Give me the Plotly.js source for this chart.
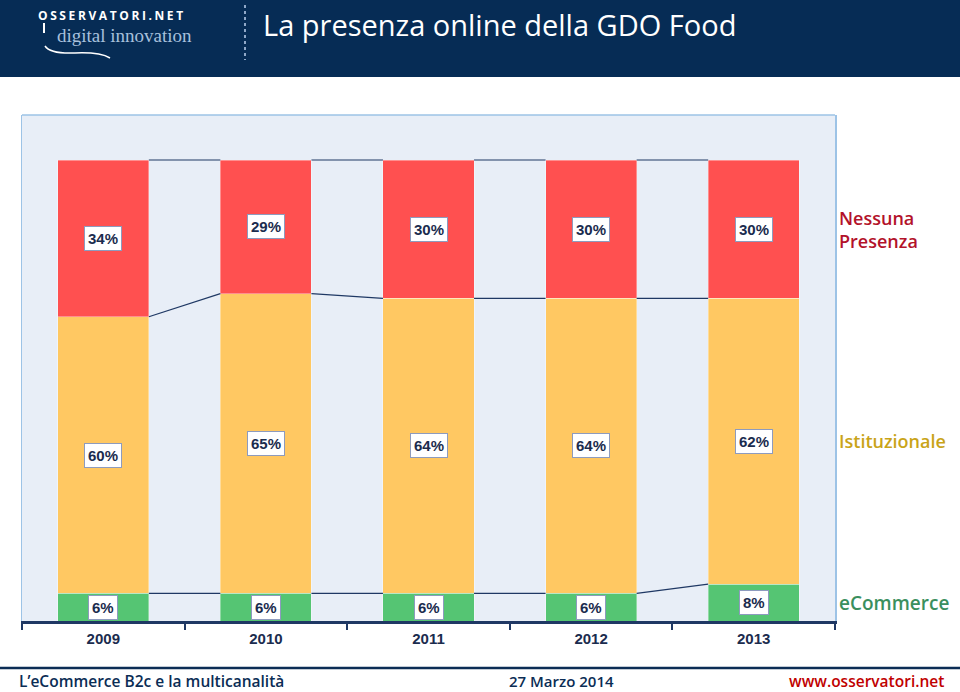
<!DOCTYPE html>
<html>
<head>
<meta charset="utf-8">
<script src="https://cdn.plot.ly/plotly-3.0.1.min.js"></script>
<style>
  html, body { margin: 0; padding: 0; background: #ffffff; }
  #chart { width: 960px; height: 692px; }
</style>
</head>
<body>
<div id="chart"></div>
<script>
// ---- data ----
const years = ['2009', '2010', '2011', '2012', '2013'];
const ecommerce = [6, 6, 6, 6, 8];
const istituzionale = [60, 65, 64, 64, 62];
const nessunaPresenza = [34, 29, 30, 30, 30];
const seriesNames = ['eCommerce', 'Istituzionale', 'Nessuna<br>Presenza'];
const headerTitle = 'La presenza online della GDO Food';
const footerLeft = 'L’eCommerce B2c e la multicanalità';
const footerMid = '27 Marzo 2014';
const footerRight = 'www.osservatori.net';

// ---- geometry helpers (plot area in pixels) ----
const W = 960, H = 692;
const M = {l: 22, r: 125, t: 115, b: 71};
const PW = W - M.l - M.r, PH = H - M.t - M.b;
const px2x = px => (px - M.l) / PW;
const py2y = py => (H - M.b - py) / PH;

const colors = ['#55C573', '#FFC862', '#FF5050'];
const labelColors = ['#3A8F5E', '#C9A418', '#B3122A'];
const navy = '#1B2C4E';
const barWidth = 0.56;

const series = [ecommerce, istituzionale, nessunaPresenza];
const xIdx = years.map((_, i) => i);
const boundaries = years.map((_, i) => i - 0.5).concat([years.length - 0.5]);

const traces = series.map((vals, k) => ({
  type: 'bar',
  x: xIdx,
  y: vals,
  name: seriesNames[k],
  width: barWidth,
  marker: {color: colors[k], line: {color: 'rgba(255,255,255,0.6)', width: 0.6}},
  hoverinfo: 'skip',
  showlegend: false
}));

// cumulative tops
const cum = series.map((_, k) => years.map((_, i) => {
  let s = 0;
  for (let j = 0; j <= k; j++) s += series[j][i];
  return s;
}));

const shapes = [];
// header band
shapes.push({type: 'rect', xref: 'paper', yref: 'paper', layer: 'below',
  x0: px2x(-5), x1: px2x(965), y0: py2y(77), y1: py2y(-5),
  fillcolor: '#062C55', line: {width: 0}});
// separator dotted line
shapes.push({type: 'line', xref: 'paper', yref: 'paper',
  x0: px2x(245), x1: px2x(245), y0: py2y(5), y1: py2y(60),
  line: {color: '#8FA8C8', width: 2, dash: 'dot'}});
// logo key stem
shapes.push({type: 'line', xref: 'paper', yref: 'paper',
  x0: px2x(44), x1: px2x(44), y0: py2y(23), y1: py2y(33),
  line: {color: '#ffffff', width: 2}});
// logo swoosh
const sw = [[45, 46], [50, 54], [75, 53], [100, 52], [110, 58]];
shapes.push({type: 'path', xref: 'paper', yref: 'paper',
  path: `M ${px2x(sw[0][0])},${py2y(sw[0][1])} Q ${px2x(sw[1][0])},${py2y(sw[1][1])} ${px2x(sw[2][0])},${py2y(sw[2][1])} Q ${px2x(sw[3][0])},${py2y(sw[3][1])} ${px2x(sw[4][0])},${py2y(sw[4][1])}`,
  line: {color: '#ffffff', width: 1.5}});
// footer line
shapes.push({type: 'line', xref: 'paper', yref: 'paper',
  x0: px2x(0), x1: px2x(960), y0: py2y(668), y1: py2y(668),
  line: {color: '#0B2D55', width: 2.5}});
// top border of plot area
shapes.push({type: 'line', xref: 'paper', yref: 'paper',
  x0: 0, x1: 1, y0: 1, y1: 1, line: {color: '#9DC3E6', width: 1.5}});

// connector lines between bars
for (let k = 0; k < series.length; k++) {
  for (let i = 0; i < years.length - 1; i++) {
    shapes.push({type: 'line', xref: 'x', yref: 'y',
      x0: xIdx[i] + barWidth / 2, x1: xIdx[i + 1] - barWidth / 2,
      y0: cum[k][i], y1: cum[k][i + 1],
      line: {color: '#1F3864', width: 1.2}});
  }
}

const annotations = [];
// segment labels
for (let k = 0; k < series.length; k++) {
  for (let i = 0; i < years.length; i++) {
    annotations.push({
      x: xIdx[i], y: cum[k][i] - series[k][i] / 2, xref: 'x', yref: 'y',
      text: series[k][i] + '%', showarrow: false,
      font: {family: 'Arial, Liberation Sans', size: 15, color: navy, weight: 'bold'},
      bgcolor: '#ffffff', bordercolor: '#8D9BBE', borderwidth: 1, borderpad: 3
    });
  }
}
// series labels on the right
const last = years.length - 1;
const rightSizes = [19, 18, 18];
for (let k = 0; k < series.length; k++) {
  annotations.push({
    x: 1, xref: 'paper', xanchor: 'left', xshift: 2,
    y: cum[k][last] - series[k][last] / 2, yref: 'y', yanchor: 'middle',
    text: seriesNames[k], showarrow: false, align: 'left',
    font: {family: 'Open Sans', size: rightSizes[k], color: labelColors[k], weight: 600}
  });
}
// header title
annotations.push({x: px2x(261), y: py2y(25), xref: 'paper', yref: 'paper',
  xanchor: 'left', yanchor: 'middle', showarrow: false, text: headerTitle,
  font: {family: 'Open Sans', size: 29, color: '#ffffff'}});
// logo text
annotations.push({x: px2x(36), y: py2y(15), xref: 'paper', yref: 'paper',
  xanchor: 'left', yanchor: 'middle', showarrow: false,
  text: '<span style="letter-spacing:2.6px">OSSERVATORI.NET</span>',
  font: {family: 'Open Sans', size: 12, color: '#ffffff', weight: 'bold'}});
annotations.push({x: px2x(55), y: py2y(35), xref: 'paper', yref: 'paper',
  xanchor: 'left', yanchor: 'middle', showarrow: false, text: 'digital innovation',
  font: {family: 'Liberation Serif', size: 19, color: '#A8C0DC'}});
// footer
annotations.push({x: px2x(17), y: py2y(681), xref: 'paper', yref: 'paper',
  xanchor: 'left', yanchor: 'middle', showarrow: false, text: footerLeft,
  font: {family: 'Open Sans', size: 15.5, color: '#0B2D55', weight: 600}});
annotations.push({x: px2x(507), y: py2y(681), xref: 'paper', yref: 'paper',
  xanchor: 'left', yanchor: 'middle', showarrow: false, text: footerMid,
  font: {family: 'Open Sans', size: 15, color: '#0B2D55', weight: 600}});
annotations.push({x: px2x(946), y: py2y(681), xref: 'paper', yref: 'paper',
  xanchor: 'right', yanchor: 'middle', showarrow: false, text: footerRight,
  font: {family: 'Open Sans', size: 15.5, color: '#C00000', weight: 600}});

const layout = {
  width: W, height: H,
  margin: M,
  paper_bgcolor: '#ffffff',
  plot_bgcolor: '#E8EEF7',
  barmode: 'stack',
  xaxis: {
    type: 'linear',
    range: [-0.5, years.length - 0.5],
    tickmode: 'array', tickvals: xIdx, ticktext: years,
    ticks: '',
    minor: {tickmode: 'array', tickvals: boundaries, ticks: 'outside', ticklen: 6,
            tickwidth: 2, tickcolor: '#1F3864', showgrid: false},
    showline: true, linecolor: '#1F3864', linewidth: 2.5,
    showgrid: false, zeroline: false,
    tickfont: {family: 'Arial, Liberation Sans', size: 15, color: navy, weight: 'bold'},
    ticklabelstandoff: 2,
    fixedrange: true
  },
  yaxis: {
    range: [0, (H - M.b - M.t) / ((H - M.b - 160) / 100)],
    showline: true, mirror: true, linecolor: '#9DC3E6', linewidth: 1.5,
    showgrid: false, zeroline: false, showticklabels: false, ticks: '',
    fixedrange: true
  },
  shapes: shapes,
  annotations: annotations
};

Plotly.newPlot('chart', traces, layout, {displayModeBar: false, staticPlot: true});
</script>
</body>
</html>
